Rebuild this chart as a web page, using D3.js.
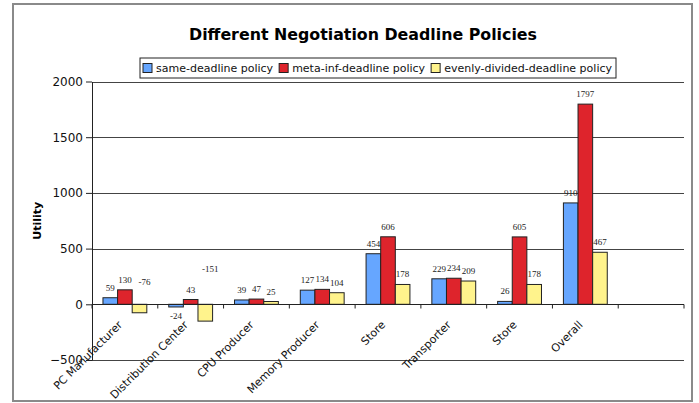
<!DOCTYPE html>
<html>
<head>
<meta charset="utf-8">
<script src="https://cdn.jsdelivr.net/npm/d3@7"></script>
<style>
  body { margin: 0; background: #fff; }
  svg { display: block; }
</style>
</head>
<body>
<div id="chart"></div>
<script>
// chart values
var categories = ["PC Manufacturer", "Distribution Center", "CPU Producer", "Memory Producer",
                  "Store", "Transporter", "Store", "Overall"];
var seriesNames = ["same-deadline policy", "meta-inf-deadline policy", "evenly-divided-deadline policy"];
var sameDeadline = [59, -24, 39, 127, 454, 229, 26, 910];
var metaInfDeadline = [130, 43, 47, 134, 606, 234, 605, 1797];
var evenlyDivided = [-76, -151, 25, 104, 178, 209, 178, 467];
var yTicks = [-500, 0, 500, 1000, 1500, 2000];

var colors = ["#66a6ff", "#de242c", "#fff38c"];
var series = [sameDeadline, metaInfDeadline, evenlyDivided];

var width = 699, height = 403;
var margin = {top: 81.5, right: 15, bottom: 43, left: 92};

var svg = d3.select("#chart").append("svg")
    .attr("width", width)
    .attr("height", height);

// outer frame
svg.append("rect")
    .attr("x", 13).attr("y", 4)
    .attr("width", 679).attr("height", 397)
    .attr("fill", "#fff")
    .attr("stroke", "#8a8a8a")
    .attr("stroke-width", 2);

// one empty slot after "Overall", like the original sheet
var x = d3.scaleBand()
    .domain(d3.range(categories.length + 1))
    .range([margin.left, width - margin.right])
    .paddingInner(0).paddingOuter(0);
var bw = x.bandwidth();

var xs = d3.scaleBand()
    .domain(d3.range(series.length))
    .range([0, bw])
    .paddingInner(0).paddingOuter(0.75);

var y = d3.scaleLinear()
    .domain([yTicks[0], yTicks[yTicks.length - 1]])
    .range([height - margin.bottom, margin.top]);

// gridlines
svg.append("g")
    .selectAll("line")
    .data(yTicks.filter(function(d) { return d !== 0; }))
    .enter().append("line")
    .attr("x1", margin.left).attr("x2", width - margin.right)
    .attr("y1", function(d) { return Math.round(y(d)) + 0.5; })
    .attr("y2", function(d) { return Math.round(y(d)) + 0.5; })
    .attr("stroke", "#444");

// y axis
var yAxis = svg.append("g")
    .attr("transform", "translate(" + margin.left + ",0)")
    .call(d3.axisLeft(y).tickValues(yTicks).tickFormat(d3.format("d"))
        .tickSize(6).tickPadding(3).tickSizeOuter(0));
yAxis.select(".domain").attr("stroke", "#222");
yAxis.selectAll(".tick line").attr("stroke", "#222");
yAxis.selectAll(".tick text")
    .attr("font-family", "DejaVu Sans, Verdana, sans-serif")
    .attr("font-size", 12)
    .attr("fill", "#111");

// bars
var groups = svg.append("g").selectAll("g")
    .data(categories)
    .enter().append("g")
    .attr("transform", function(d, i) { return "translate(" + x(i) + ",0)"; });

groups.selectAll("rect")
    .data(function(d, i) { return series.map(function(s, k) { return {k: k, v: s[i]}; }); })
    .enter().append("rect")
    .attr("x", function(d) { return xs(d.k); })
    .attr("width", xs.bandwidth())
    .attr("y", function(d) { return y(Math.max(0, d.v)); })
    .attr("height", function(d) { return Math.abs(y(d.v) - y(0)); })
    .attr("fill", function(d) { return colors[d.k]; })
    .attr("stroke", "#222")
    .attr("stroke-width", 1);

// value labels (the sheet put the larger negative ones above the axis)
groups.selectAll("text")
    .data(function(d, i) { return series.map(function(s, k) { return {k: k, v: s[i]}; }); })
    .enter().append("text")
    .attr("x", function(d) {
        var cx = xs(d.k) + xs.bandwidth() / 2;
        return (d.v < -50) ? cx + 5 : cx;
    })
    .attr("y", function(d) {
        if (d.v >= 0) return y(d.v) - 7;
        if (d.v < -50) return y(-d.v * 1.5) - 7;
        return y(d.v) + 12;
    })
    .attr("text-anchor", "middle")
    .attr("font-family", "Liberation Serif, Times New Roman, serif")
    .attr("font-size", 9)
    .attr("fill", "#222")
    .text(function(d) { return d.v; });

// category axis along zero
var y0 = Math.round(y(0)) + 0.5;
svg.append("line")
    .attr("x1", margin.left).attr("x2", width - margin.right)
    .attr("y1", y0).attr("y2", y0)
    .attr("stroke", "#222");

svg.append("g").selectAll("line")
    .data(d3.range(categories.length + 2))
    .enter().append("line")
    .attr("x1", function(i) { return margin.left + i * bw; })
    .attr("x2", function(i) { return margin.left + i * bw; })
    .attr("y1", y0).attr("y2", y0 + 4)
    .attr("stroke", "#222");

svg.append("g").selectAll("text")
    .data(categories)
    .enter().append("text")
    .attr("transform", function(d, i) {
        return "translate(" + (x(i) + bw / 2 - 2) + "," + (y0 + 21) + ") rotate(-45)";
    })
    .attr("text-anchor", "end")
    .attr("font-family", "DejaVu Sans, Verdana, sans-serif")
    .attr("font-size", 11)
    .attr("fill", "#111")
    .text(function(d) { return d; });

// y title
svg.append("text")
    .attr("transform", "translate(41," + (margin.top + height - margin.bottom) / 2 + ") rotate(-90)")
    .attr("text-anchor", "middle")
    .attr("font-family", "DejaVu Sans, Verdana, sans-serif")
    .attr("font-weight", "bold")
    .attr("font-size", 11)
    .text("Utility");

// title
svg.append("text")
    .attr("x", 363).attr("y", 40)
    .attr("text-anchor", "middle")
    .attr("font-family", "DejaVu Sans, Verdana, sans-serif")
    .attr("font-weight", "bold")
    .attr("font-size", 16)
    .attr("textLength", 348)
    .attr("lengthAdjust", "spacingAndGlyphs")
    .text("Different Negotiation Deadline Policies");

// legend
var legend = svg.append("g");
var legendBox = legend.append("rect")
    .attr("y", 58).attr("height", 20)
    .attr("fill", "#fff").attr("stroke", "#222");

var lx = 143;
seriesNames.forEach(function(name, k) {
    legend.append("rect")
        .attr("x", lx).attr("y", 63.5)
        .attr("width", 9).attr("height", 9)
        .attr("fill", colors[k]).attr("stroke", "#222");
    var t = legend.append("text")
        .attr("x", lx + 13).attr("y", 72)
        .attr("font-family", "DejaVu Sans, Verdana, sans-serif")
        .attr("font-size", 11)
        .attr("fill", "#111")
        .text(name);
    lx += 13 + t.node().getComputedTextLength() + 6;
});
legendBox.attr("x", 140).attr("width", lx - 140 - 2);
</script>
</body>
</html>
